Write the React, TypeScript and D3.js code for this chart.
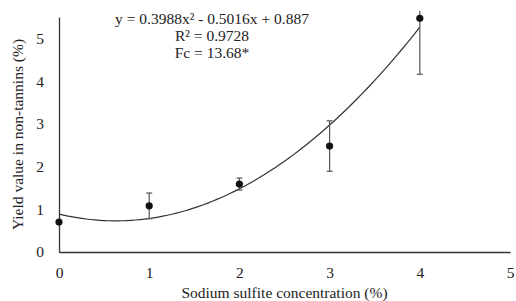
import * as d3 from "d3";
import { useEffect, useRef } from "react";

const concentrations = [0, 1, 2, 3, 4];
const yieldValues = [0.7, 1.08, 1.59, 2.48, 5.47];
const errors = [0, 0.3, 0.14, 0.59, 1.31];
const xTicks = [0, 1, 2, 3, 4, 5];
const yTicks = [0, 1, 2, 3, 4, 5];
const coef = { a: 0.3988, b: -0.5016, c: 0.887 };
const eqLines = ["y = 0.3988x\u00b2 - 0.5016x + 0.887", "R\u00b2 = 0.9728", "Fc = 13.68*"];

const width = 516;
const height = 301;

export default function App() {
  const ref = useRef<SVGSVGElement | null>(null);

  useEffect(() => {
    const el = ref.current;
    if (!el) return;
    const svg = d3.select(el);
    svg.selectAll("*").remove();

    const margin = { top: 17, right: 6, bottom: 49, left: 59 };
    const font = "Liberation Serif";
    const fs = 15.5;

    const x = d3.scaleLinear().domain([0, 5]).range([margin.left, width - margin.right]);
    const y = d3.scaleLinear().domain([0, 5.5]).range([height - margin.bottom, margin.top]);

    svg.append("rect").attr("width", width).attr("height", height).attr("fill", "#fff");

    svg
      .append("defs")
      .append("clipPath")
      .attr("id", "plot")
      .append("rect")
      .attr("x", margin.left)
      .attr("y", margin.top - 6)
      .attr("width", width - margin.left - margin.right)
      .attr("height", height - margin.top - margin.bottom + 6);

    // axes
    svg
      .append("g")
      .attr("transform", `translate(0,${y(0)})`)
      .call(d3.axisBottom(x).tickValues(xTicks).tickSize(0).tickPadding(15).tickFormat(d3.format("d")))
      .call((g) => g.select(".domain").attr("stroke", "#333").attr("stroke-width", 1.3))
      .call((g) => g.selectAll("text").style("font-family", font).attr("font-size", fs).attr("fill", "#222"));

    svg
      .append("g")
      .attr("transform", `translate(${x(0)},0)`)
      .call(d3.axisLeft(y).tickValues(yTicks).tickSize(0).tickPadding(15).tickFormat(d3.format("d")))
      .call((g) => g.select(".domain").attr("stroke", "#333").attr("stroke-width", 1.3))
      .call((g) => g.selectAll("text").style("font-family", font).attr("font-size", fs).attr("fill", "#222"));

    // axis titles
    svg
      .append("text")
      .attr("x", (x(0) + x(5)) / 2)
      .attr("y", 298)
      .attr("text-anchor", "middle")
      .style("font-family", font)
      .attr("font-size", fs)
      .attr("fill", "#222")
      .text("Sodium sulfite concentration (%)");

    svg
      .append("text")
      .attr("transform", `translate(23,${(y(0) + y(5.5)) / 2}) rotate(-90)`)
      .attr("text-anchor", "middle")
      .style("font-family", font)
      .attr("font-size", fs)
      .attr("fill", "#222")
      .text("Yield value in non-tannins (%)");

    // fitted curve
    const fit = (v: number) => coef.a * v * v + coef.b * v + coef.c;
    const curvePts = d3.range(0, 4.0001, 0.05).map((v) => [v, fit(v)] as [number, number]);
    svg
      .append("path")
      .attr("d", d3.line<[number, number]>().x((d) => x(d[0])).y((d) => y(d[1]))(curvePts))
      .attr("fill", "none")
      .attr("stroke", "#333")
      .attr("stroke-width", 1.2);

    // error bars
    const eb = svg.append("g").attr("clip-path", "url(#plot)");
    concentrations.forEach((c, i) => {
      if (!errors[i]) return;
      const cx = x(c);
      const top = y(yieldValues[i] + errors[i]);
      const bot = y(yieldValues[i] - errors[i]);
      eb.append("line").attr("x1", cx).attr("x2", cx).attr("y1", top).attr("y2", bot).attr("stroke", "#555").attr("stroke-width", 1.2);
      [top, bot].forEach((yy) =>
        eb.append("line").attr("x1", cx - 3).attr("x2", cx + 3).attr("y1", yy).attr("y2", yy).attr("stroke", "#555").attr("stroke-width", 1.2)
      );
    });

    // points
    svg
      .append("g")
      .selectAll("circle")
      .data(concentrations)
      .enter()
      .append("circle")
      .attr("cx", (d) => x(d))
      .attr("cy", (_, i) => y(yieldValues[i]))
      .attr("r", 3.6)
      .attr("fill", "#111");

    // equation
    const eq = svg
      .append("text")
      .attr("text-anchor", "middle")
      .style("font-family", font)
      .attr("font-size", fs)
      .attr("fill", "#222");
    eqLines.forEach((t, i) => {
      eq.append("tspan").attr("x", 212).attr("y", 24 + i * 17).text(t);
    });
  }, []);

  return (
    <svg
      ref={ref}
      width={width}
      height={height}
      style={{ position: "absolute", left: 0, top: 0, display: "block" }}
    />
  );
}
